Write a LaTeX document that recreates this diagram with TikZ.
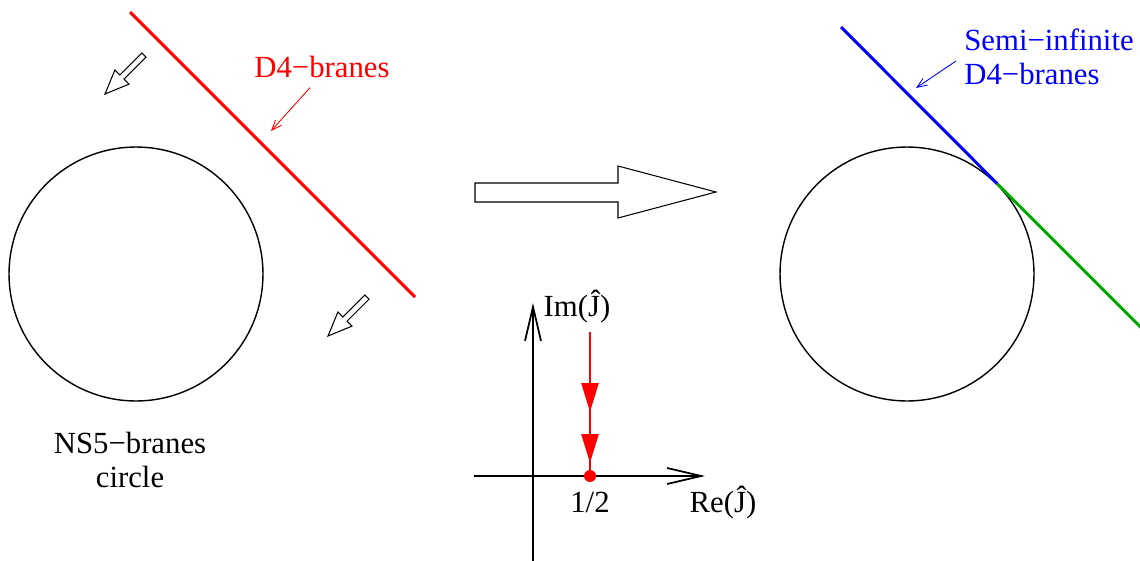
\documentclass[tikz,border=0pt]{standalone}
\usepackage{fontspec}
\setmainfont{Liberation Serif}
\usepackage{tikz}
\usetikzlibrary{arrows.meta,positioning,calc}
\definecolor{branegreen}{RGB}{0,170,0}

\begin{document}
\begin{tikzpicture}[
        x=0.02cm, y=-0.02cm,
        font=\fontsize{17.5}{19.4}\selectfont,
        brane/.style={line width=1.7pt},
        ring/.style={draw, circle, line width=0.8pt, inner sep=0pt, minimum size=5.08cm},
        lbl/.style={inner sep=0pt, align=center},
        lead/.style={-{Straight Barb[length=2mm,width=1.6mm]}, line width=0.5pt},
        axis/.style={-{Straight Barb[length=6.8mm,width=3.2mm]}, line width=1pt},
        flow/.style={-{Triangle[length=5.8mm,width=3.4mm]}, red, line width=1.4pt},
        hollow/.style={draw, line width=0.6pt, fill=white, line join=miter}
    ]
        \useasboundingbox (0,0) rectangle (1140,561);
        \clip (0,0) rectangle (1140,561);

        % left: D4-branes moving towards the NS5 circle
        \node[ring] (ns5l) at (136,274) {};
        \draw[brane, red] (130,12) -- (415,297);
        \node[lbl, red, anchor=base] (d4lab) at (322,77) {D4−branes};
        \coordinate (d4tip) at (271,131);
        \draw[lead, red] ($(d4lab.south)+(-12,10)$) -- (d4tip);
        \node[lbl] (ns5lab) at (130,460) {NS5−branes\\circle};
        \foreach \tx/\ty in {105/94, 328/336} {
            \begin{scope}[shift={(\tx,\ty)}, rotate=225]
                \draw[hollow] (0,0) -- (-24,10) -- (-24,3) -- (-55,3)
                    -- (-55,-3) -- (-24,-3) -- (-24,-10) -- cycle;
            \end{scope}
        }

        % big arrow
        \draw[hollow] (475,183) -- (618,183) -- (618,166) -- (716,192)
            -- (618,218) -- (618,202) -- (475,202) -- cycle;

        % right: semi-infinite D4-branes
        \node[ring] (ns5r) at (907,274) {};
        \draw[brane, blue] (841,27) -- (ns5r.45);
        \draw[brane, branegreen] (ns5r.45) -- ++(160,160);
        \node[lbl, blue, align=left, anchor=west] (semilab) at (964,57) {Semi−infinite\\D4−branes};
        \coordinate (semitip) at (916,88);
        \draw[lead, blue] ($(semilab.west)+(-8,4)$) -- (semitip);

        % J-plane
        \coordinate (ybot) at (533,561);
        \coordinate (ytop) at (533,303);
        \coordinate (xleft) at (474,476);
        \coordinate (xright) at (705,476);
        \draw[axis] (ybot) -- (ytop);
        \draw[axis] (xleft) -- (xright);
        \node[circle, fill=red, inner sep=0pt, minimum size=0.24cm] (half) at (590,476) {};
        \node[lbl, anchor=base] (halflab) at (590,512) {1/2};
        \node[lbl, anchor=base] (imlab) at (577,316) {Im(Ĵ)};
        \node[lbl, anchor=base] (relab) at (723,512) {Re(Ĵ)};
        \coordinate (flowtop) at (590,332);
        \coordinate (flowmid) at (590,412);
        \draw[red, line width=1.4pt] (flowtop) -- (half);
        \draw[flow] (flowtop) -- (flowmid);
        \draw[flow] (flowmid) -- ++(0,51);
    \end{tikzpicture}
\end{document}
